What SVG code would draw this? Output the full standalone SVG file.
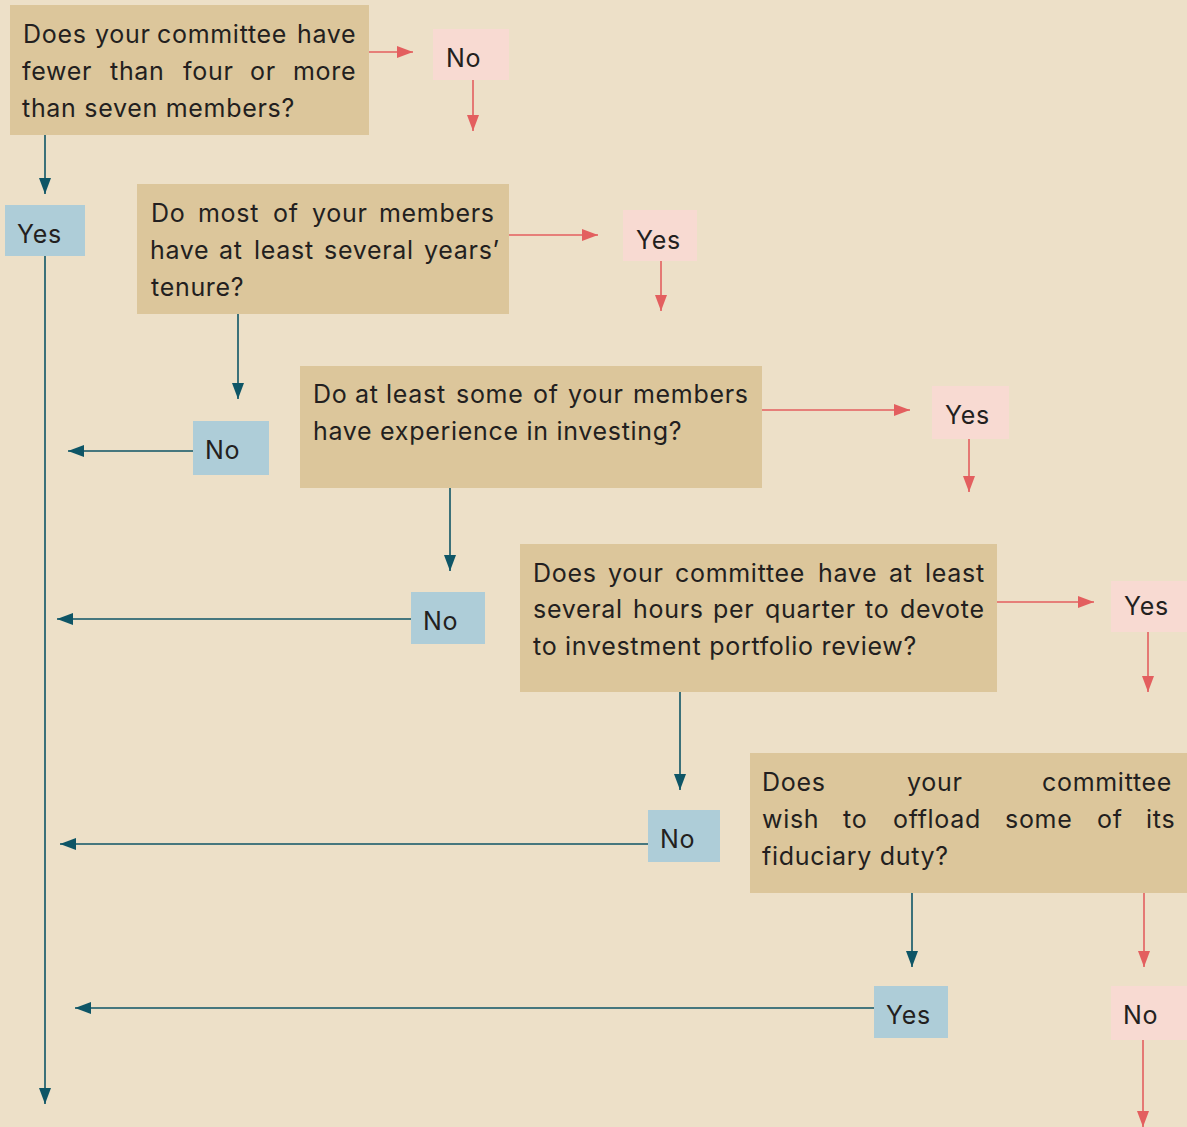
<svg xmlns="http://www.w3.org/2000/svg" width="1187" height="1127" viewBox="0 0 1187 1127">
<defs>
<style>
text{font-family:Inter,"Noto Sans","Liberation Sans",sans-serif;font-size:25px;fill:#231f20;letter-spacing:0.7px}
.q{fill:#dcc69b}
.t{fill:#aecdd8}
.p{fill:#f8dad2}
.ct{stroke:#0e5566;stroke-width:1.6;fill:none}
.cr{stroke:#e35f5f;stroke-width:1.6;fill:none}
</style>
<marker id="at" markerUnits="userSpaceOnUse" markerWidth="16" markerHeight="12" refX="16" refY="6" orient="auto"><path d="M0,0 L16,6 L0,12 z" fill="#0e5566"/></marker>
<marker id="ar" markerUnits="userSpaceOnUse" markerWidth="16" markerHeight="12" refX="16" refY="6" orient="auto"><path d="M0,0 L16,6 L0,12 z" fill="#e35f5f"/></marker>
</defs>
<rect width="1187" height="1127" fill="#ede0c8"/>
<g id="connectors">
<path class="ct" marker-end="url(#at)" d="M45,135 V194"/>
<path class="ct" marker-end="url(#at)" d="M45,256 V1104"/>
<path class="ct" marker-end="url(#at)" d="M238,314 V399"/>
<path class="ct" marker-end="url(#at)" d="M193,451 H68"/>
<path class="ct" marker-end="url(#at)" d="M450,488 V571"/>
<path class="ct" marker-end="url(#at)" d="M411,619 H57"/>
<path class="ct" marker-end="url(#at)" d="M680,692 V790"/>
<path class="ct" marker-end="url(#at)" d="M648,844 H60"/>
<path class="ct" marker-end="url(#at)" d="M912,893 V967"/>
<path class="ct" marker-end="url(#at)" d="M874,1008 H75"/>
<path class="cr" marker-end="url(#ar)" d="M369,52 H413"/>
<path class="cr" marker-end="url(#ar)" d="M473,80 V131"/>
<path class="cr" marker-end="url(#ar)" d="M509,235 H598"/>
<path class="cr" marker-end="url(#ar)" d="M661,261 V311"/>
<path class="cr" marker-end="url(#ar)" d="M762,410 H910"/>
<path class="cr" marker-end="url(#ar)" d="M969,439 V492"/>
<path class="cr" marker-end="url(#ar)" d="M997,602 H1094"/>
<path class="cr" marker-end="url(#ar)" d="M1148,632 V692"/>
<path class="cr" marker-end="url(#ar)" d="M1144,893 V967"/>
<path class="cr" marker-end="url(#ar)" d="M1143,1040 V1127"/>
</g>
<g id="q1">
<rect class="q" x="10" y="5" width="359" height="130"/>
<text y="43"><tspan x="23">Does</tspan><tspan x="95">your</tspan><tspan x="157">committee</tspan><tspan x="297">have</tspan></text>
<text y="80"><tspan x="22">fewer</tspan><tspan x="110">than</tspan><tspan x="183">four</tspan><tspan x="250">or</tspan><tspan x="293">more</tspan></text>
<text x="22" y="117">than seven members?</text>
</g>
<g id="no1"><rect class="p" x="433" y="29" width="76" height="51"/><text x="446" y="67">No</text></g>
<g id="yes1"><rect class="t" x="5" y="205" width="80" height="51"/><text x="17" y="243">Yes</text></g>
<g id="q2">
<rect class="q" x="137" y="184" width="372" height="130"/>
<text y="222"><tspan x="151">Do</tspan><tspan x="198">most</tspan><tspan x="273">of</tspan><tspan x="312">your</tspan><tspan x="379">members</tspan></text>
<text y="259"><tspan x="150">have</tspan><tspan x="219">at</tspan><tspan x="254">least</tspan><tspan x="324">several</tspan><tspan x="424">years’</tspan></text>
<text x="151" y="296">tenure?</text>
</g>
<g id="yes2"><rect class="p" x="623" y="210" width="74" height="51"/><text x="636" y="249">Yes</text></g>
<g id="no2"><rect class="t" x="193" y="421" width="76" height="54"/><text x="205" y="459">No</text></g>
<g id="q3">
<rect class="q" x="300" y="366" width="462" height="122"/>
<text y="403"><tspan x="313">Do</tspan><tspan x="355">at</tspan><tspan x="386">least</tspan><tspan x="456">some</tspan><tspan x="533">of</tspan><tspan x="568">your</tspan><tspan x="633">members</tspan></text>
<text x="313" y="440">have experience in investing?</text>
</g>
<g id="yes3"><rect class="p" x="932" y="386" width="77" height="53"/><text x="945" y="424">Yes</text></g>
<g id="no3"><rect class="t" x="411" y="592" width="74" height="52"/><text x="423" y="630">No</text></g>
<g id="q4">
<rect class="q" x="520" y="544" width="477" height="148"/>
<text y="582"><tspan x="533">Does</tspan><tspan x="608">your</tspan><tspan x="675">committee</tspan><tspan x="818">have</tspan><tspan x="889">at</tspan><tspan x="925">least</tspan></text>
<text y="618"><tspan x="533">several</tspan><tspan x="633">hours</tspan><tspan x="713">per</tspan><tspan x="765">quarter</tspan><tspan x="865">to</tspan><tspan x="900">devote</tspan></text>
<text x="533" y="655">to investment portfolio review?</text>
</g>
<g id="yes4"><rect class="p" x="1111" y="581" width="76" height="51"/><text x="1124" y="615">Yes</text></g>
<g id="no4"><rect class="t" x="648" y="810" width="72" height="52"/><text x="660" y="848">No</text></g>
<g id="q5">
<rect class="q" x="750" y="753" width="437" height="140"/>
<text y="791"><tspan x="762">Does</tspan><tspan x="907">your</tspan><tspan x="1042">committee</tspan></text>
<text y="828"><tspan x="762">wish</tspan><tspan x="843">to</tspan><tspan x="893">offload</tspan><tspan x="1005">some</tspan><tspan x="1097">of</tspan><tspan x="1146">its</tspan></text>
<text x="762" y="865">fiduciary duty?</text>
</g>
<g id="yes5"><rect class="t" x="874" y="986" width="74" height="52"/><text x="886" y="1024">Yes</text></g>
<g id="no5"><rect class="p" x="1111" y="986" width="76" height="54"/><text x="1123" y="1024">No</text></g>
</svg>
